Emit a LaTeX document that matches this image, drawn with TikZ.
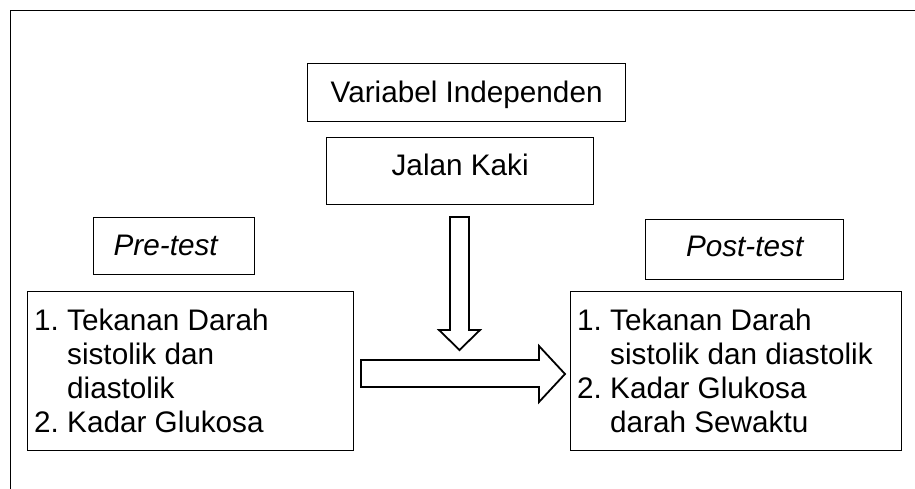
\documentclass[tikz,border=0pt]{standalone}
\usepackage{fontspec}
\setmainfont{Liberation Sans}
\usepackage{array}
\begin{document}
\begin{tikzpicture}[x=1pt,y=-1pt,
  box/.style={draw, line width=1.3pt, inner sep=0pt, anchor=north west, font=\fontsize{29.7}{34}\selectfont},
  listtext/.style={anchor=base west, inner sep=0pt, font=\fontsize{29.7}{34}\selectfont},
  fat/.style={draw, line width=1.8pt, fill=white, line join=miter}]
\useasboundingbox (0,0) rectangle (915,489);
\draw[line width=1.3pt] (10.7,489) -- (10.7,10.3) -- (915,10.3);
\node[box, minimum width=318pt, text height=39pt, text depth=19pt] (var) at (307,63) {Variabel Independen};
\node[box, minimum width=267pt, text height=38pt, text depth=29pt] (jalan) at (326,137) {Jalan Kaki};
\node[box, text width=121pt, inner xsep=20pt, align=left, text height=38pt, text depth=19pt] (pre) at (93,217) {\itshape Pre-test};
\node[box, minimum width=198pt, text height=37pt, text depth=23pt] (post) at (645,219) {\itshape Post-test};
\node[box, minimum width=326pt, minimum height=159pt] (leftbox) at (27,291) {};
\node[box, minimum width=331pt, minimum height=159pt] (rightbox) at (570,291) {};
\node[listtext] (lefttext) at (34,330) {\begin{tabular}[t]{@{}p{33pt}@{}l@{}}1.&Tekanan Darah\\ &sistolik dan\\ &diastolik\\ 2.&Kadar Glukosa\end{tabular}};
\node[listtext] (righttext) at (577,330) {\begin{tabular}[t]{@{}p{33pt}@{}l@{}}1.&Tekanan Darah\\ &sistolik dan diastolik\\ 2.&Kadar Glukosa\\ &darah Sewaktu\end{tabular}};
\draw[fat] (450,217) -- (469,217) -- (469,330) -- (480,330) -- (459.5,350) -- (439,330) -- (450,330) -- cycle;
\draw[fat] (361,360) -- (539,360) -- (539,346) -- (565,374) -- (539,402) -- (539,387) -- (361,387) -- cycle;
\end{tikzpicture}
\end{document}
